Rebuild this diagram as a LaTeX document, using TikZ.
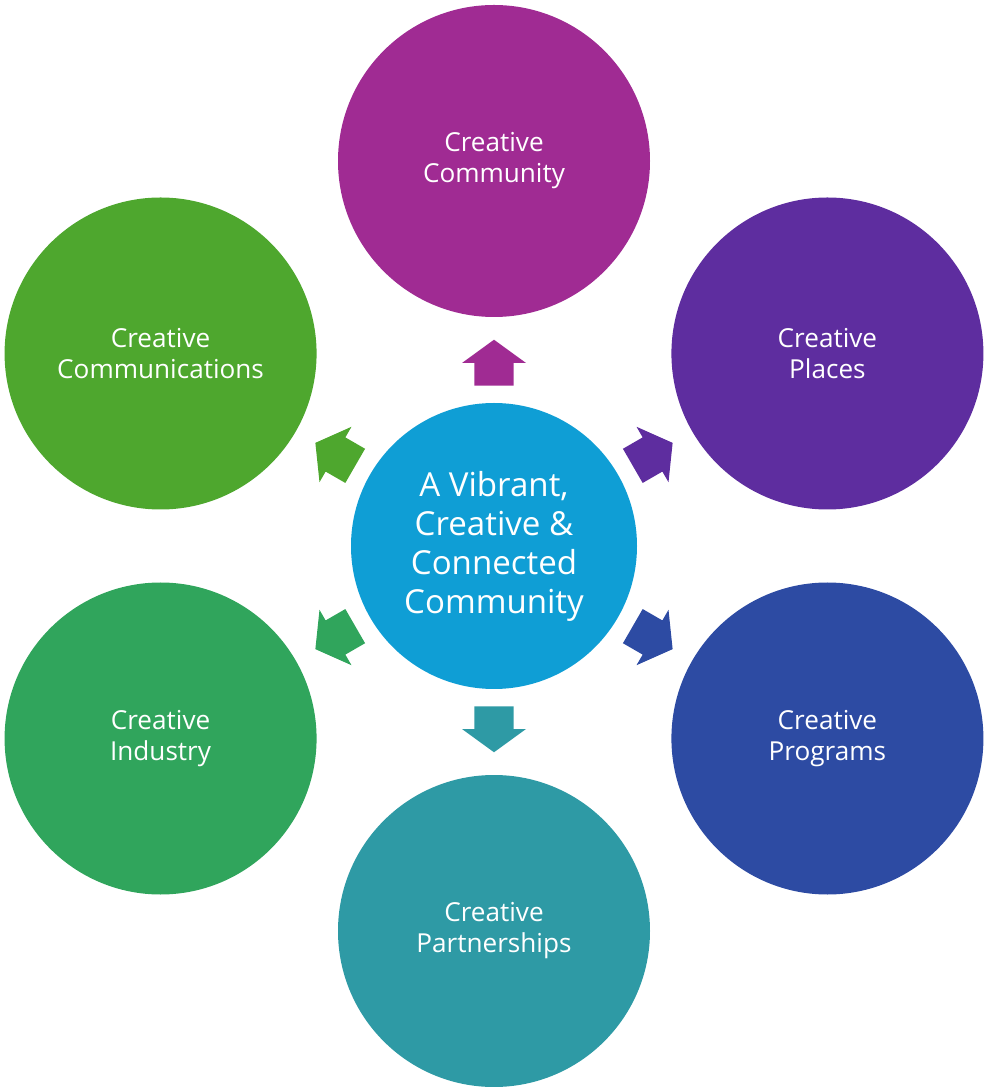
\documentclass[tikz,border=0pt]{standalone}
\usepackage{fontspec}
\setmainfont{Open Sans}
\usepackage{tikz}
\usetikzlibrary{shapes.arrows}
\definecolor{hubblue}{HTML}{0F9ED5}
\definecolor{commpink}{HTML}{A02B93}
\definecolor{placepurple}{HTML}{5E2D9F}
\definecolor{progblue}{HTML}{2D4BA3}
\definecolor{partteal}{HTML}{2E9AA5}
\definecolor{indgreen}{HTML}{30A55C}
\definecolor{commsgreen}{HTML}{4EA72E}

\begin{document}
\begin{tikzpicture}[x=0.75pt,y=0.75pt]
\tikzset{
    hubnode/.style = {circle, fill=hubblue, text=white, align=center, inner sep=0pt, minimum size=214.5pt, font=\fontsize{24.8}{29.25}\selectfont},
    spokenode/.style = {circle, text=white, align=center, inner sep=0pt, minimum size=234pt, font=\fontsize{19.6}{23.25}\selectfont},
    pusharrow/.style = {single arrow, draw=none, inner xsep=0pt, inner ysep=14.6pt, minimum height=34.5pt, single arrow head extend=9.2pt, single arrow tip angle=108, anchor=tail}
}
\useasboundingbox (-494,-541) rectangle (491,546);
\node [hubnode] (hub) at (0,0) {A Vibrant,\\Creative \&\\Connected\\Community};
\foreach \ang/\col/\nm/\txt in {90/commpink/community/{Creative\\Community},
                                30/placepurple/places/{Creative\\Places},
                                -30/progblue/programs/{Creative\\Programs},
                                -90/partteal/partnerships/{Creative\\Partnerships},
                                -150/indgreen/industry/{Creative\\Industry},
                                150/commsgreen/communications/{Creative\\Communications}}
{
    \node [spokenode, fill=\col] (\nm) at (\ang:385) {\txt};
    \node [pusharrow, fill=\col, rotate=\ang] (\nm-arrow) at (\ang:160) {};
}
\end{tikzpicture}
\end{document}
